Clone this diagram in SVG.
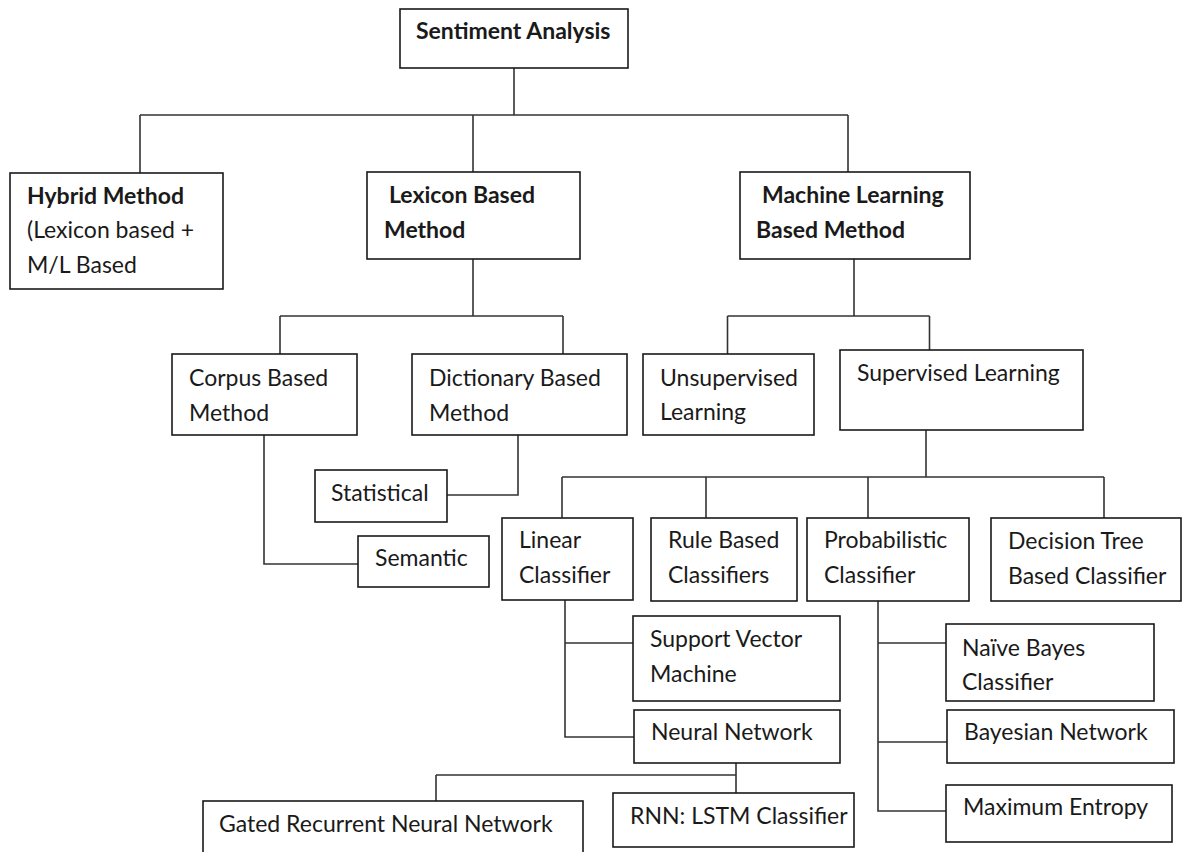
<svg xmlns="http://www.w3.org/2000/svg" width="1184" height="852" viewBox="0 0 1184 852">
<style>
rect{fill:#fff;stroke:#1a1a1a;stroke-width:1.6}
text{font-family:Lato,"Open Sans","Liberation Sans",sans-serif;font-size:23px;fill:#1a1a1a}
.b{font-weight:bold}
#connectors path{fill:none;stroke:#333;stroke-width:1.6}
</style>
<rect x="0" y="0" width="1184" height="852" style="fill:#fff;stroke:none"/>
<g id="connectors">
<path d="M514,68 V115 M140,115 H848 M140,115 V173 M473,115 V172 M848,115 V172"/>
<path d="M473,259 V316 M280,316 H563 M280,316 V354 M563,316 V354"/>
<path d="M854,259 V316 M727.5,316 H929.5 M727.5,316 V354 M929.5,316 V350"/>
<path d="M518,435 V495 H447"/>
<path d="M264,435 V564 H358"/>
<path d="M926,430 V477 M562,477 H1104 M562,477 V518 M706,477 V518 M868,477 V518 M1104,477 V518"/>
<path d="M565,600 V737 H634 M565,643 H633"/>
<path d="M878,601 V811 H946 M878,643 H946 M878,742 H947"/>
<path d="M736,763 V793 M436,775 H736 M436,775 V801"/>
</g>
<g id="sentiment-analysis"><rect x="400" y="9" width="228" height="59"/><text class="b" x="416" y="39">Sentiment Analysis</text></g>
<g id="hybrid"><rect x="10" y="173" width="213" height="116"/><text class="b" x="27" y="204">Hybrid Method</text><text x="27" y="238">(Lexicon based +</text><text x="27" y="273">M/L Based</text></g>
<g id="lexicon"><rect x="367" y="172" width="213" height="87"/><text class="b" x="389" y="203">Lexicon Based</text><text class="b" x="384" y="238">Method</text></g>
<g id="machine-learning"><rect x="740" y="172" width="230" height="87"/><text class="b" x="762" y="203">Machine Learning</text><text class="b" x="756" y="238">Based Method</text></g>
<g id="corpus"><rect x="172" y="354" width="185" height="81"/><text x="189" y="386">Corpus Based</text><text x="189" y="421">Method</text></g>
<g id="dictionary"><rect x="412" y="354" width="215" height="81"/><text x="429" y="386">Dictionary Based</text><text x="429" y="421">Method</text></g>
<g id="unsupervised"><rect x="643" y="354" width="171" height="81"/><text x="660" y="386">Unsupervised</text><text x="660" y="420">Learning</text></g>
<g id="supervised"><rect x="840" y="350" width="243" height="80"/><text x="857" y="381">Supervised Learning</text></g>
<g id="statistical"><rect x="315" y="470" width="132" height="52"/><text x="331" y="501">Statistical</text></g>
<g id="semantic"><rect x="358" y="536" width="131" height="51"/><text x="375" y="566">Semantic</text></g>
<g id="linear"><rect x="502" y="518" width="131" height="82"/><text x="519" y="548">Linear</text><text x="519" y="583">Classifier</text></g>
<g id="rule"><rect x="651" y="518" width="146" height="83"/><text x="668" y="548">Rule Based</text><text x="668" y="583">Classifiers</text></g>
<g id="probabilistic"><rect x="807" y="518" width="162" height="83"/><text x="824" y="548">Probabilistic</text><text x="824" y="583">Classifier</text></g>
<g id="decision-tree"><rect x="991" y="518" width="190" height="83"/><text x="1008" y="549">Decision Tree</text><text x="1008" y="584">Based Classifier</text></g>
<g id="svm"><rect x="633" y="616" width="207" height="85"/><text x="650" y="647">Support Vector</text><text x="650" y="682">Machine</text></g>
<g id="neural-network"><rect x="634" y="710" width="206" height="53"/><text x="651" y="740">Neural Network</text></g>
<g id="naive-bayes"><rect x="946" y="624" width="208" height="77"/><text x="962" y="656">Naïve Bayes</text><text x="962" y="690">Classifier</text></g>
<g id="bayesian-network"><rect x="947" y="710" width="227" height="53"/><text x="964" y="740">Bayesian Network</text></g>
<g id="maximum-entropy"><rect x="946" y="785" width="226" height="57"/><text x="963" y="815">Maximum Entropy</text></g>
<g id="gated-rnn"><rect x="203" y="801" width="380" height="70"/><text x="219" y="832">Gated Recurrent Neural Network</text></g>
<g id="rnn-lstm"><rect x="613" y="793" width="241" height="54"/><text x="630" y="824">RNN: LSTM Classifier</text></g>
</svg>
